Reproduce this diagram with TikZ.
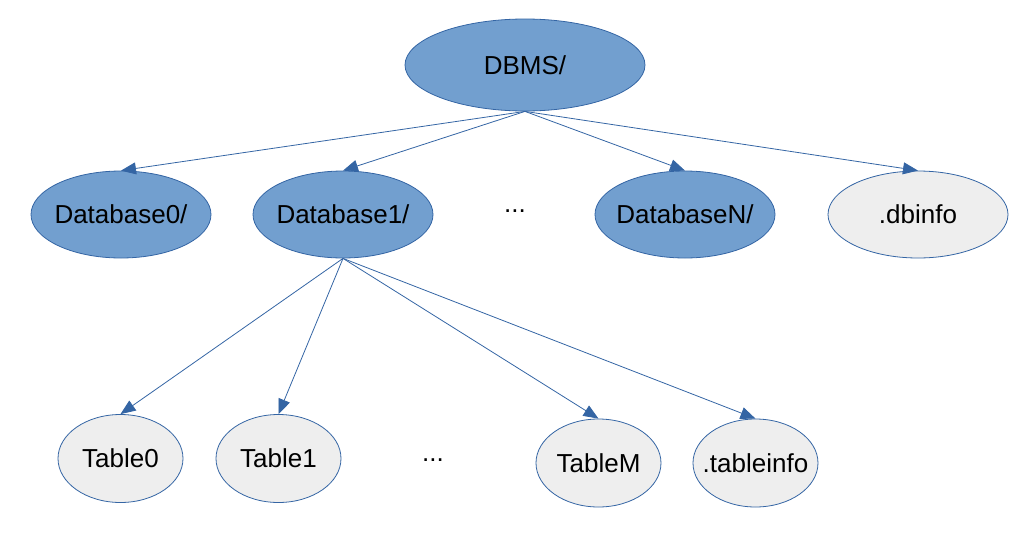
\documentclass[tikz,border=0pt]{standalone}
\usepackage{fontspec}
\setmainfont{Liberation Sans}
\usetikzlibrary{shapes.geometric,arrows.meta}
\definecolor{lineblue}{HTML}{3465A4}
\definecolor{fillblue}{HTML}{729FCF}
\definecolor{fillgray}{HTML}{EEEEEE}
\newcommand\zw[1]{\makebox[0pt]{#1}}
\begin{document}
\begin{tikzpicture}[x=1pt,y=-1pt,
  every node/.style={font=\fontsize{26}{30}\selectfont},
  dirnode/.style={ellipse,draw=lineblue,fill=fillblue,line width=0.8pt,inner sep=0pt},
  filenode/.style={ellipse,draw=lineblue,fill=fillgray,line width=0.8pt,inner sep=0pt},
  big/.style={minimum width=180pt,minimum height=87pt},
  small/.style={minimum width=125pt,minimum height=88pt},
  conn/.style={draw=lineblue,line width=0.8pt,-{Triangle[length=15pt,width=12pt,fill=lineblue]}}]
\useasboundingbox (0,0) rectangle (1034,533);
\node[dirnode,minimum width=240pt,minimum height=92pt] (dbms) at (525,65) {\zw{DBMS/}};
\node[dirnode,big] (db0) at (121,214.5) {\zw{Database0/}};
\node[dirnode,big] (db1) at (343,214.5) {\zw{Database1/}};
\node (dots1) at (515,211.5) {...};
\node[dirnode,big] (dbn) at (685,214.5) {\zw{DatabaseN/}};
\node[filenode,big] (dbinfo) at (918,214.5) {\zw{.dbinfo}};
\node[filenode,small] (t0) at (120.5,458.5) {\zw{Table0}};
\node[filenode,small] (t1) at (278.5,458.5) {\zw{Table1}};
\node (dots2) at (433,460.5) {...};
\node[filenode,small] (tm) at (598.5,463) {\zw{TableM}};
\node[filenode,small] (ti) at (755.5,463) {\zw{.tableinfo}};
\draw[conn] (dbms.south) -- (db0.north);
\draw[conn] (dbms.south) -- (db1.north);
\draw[conn] (dbms.south) -- (dbn.north);
\draw[conn] (dbms.south) -- (dbinfo.north);
\draw[conn] (db1.south) -- (t0.north);
\draw[conn] (db1.south) -- (t1.north);
\draw[conn] (db1.south) -- (tm.north);
\draw[conn] (db1.south) -- (ti.north);
\end{tikzpicture}
\end{document}
